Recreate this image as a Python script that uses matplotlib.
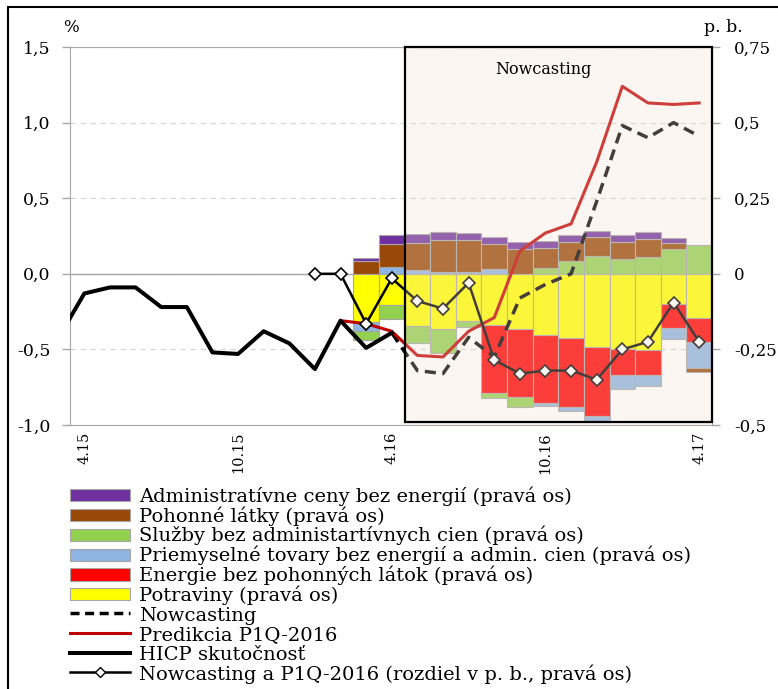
import numpy as np
import matplotlib
matplotlib.use("Agg")
from matplotlib import pyplot as plt
from matplotlib.legend_handler import HandlerPatch
from matplotlib.lines import Line2D
from matplotlib.patches import Patch, Rectangle

plt.rcParams["font.family"] = ["DejaVu Serif"]

months = ["3.15", "4.15", "5.15", "6.15", "7.15", "8.15", "9.15", "10.15", "11.15",
          "12.15", "1.16", "2.16", "3.16", "4.16", "5.16", "6.16", "7.16", "8.16",
          "9.16", "10.16", "11.16", "12.16", "1.17", "2.17", "3.17", "4.17"]
tick_months = ["4.15", "10.15", "4.16", "10.16", "4.17"]

# HICP, % (left axis)
hicp = [-0.42, -0.13, -0.09, -0.09, -0.22, -0.22, -0.52, -0.53, -0.38, -0.46,
        -0.63, -0.31, -0.49, -0.39]
prediction = [-0.31, -0.33, -0.38, -0.54, -0.55, -0.38, -0.29, 0.15, 0.27, 0.33,
              0.74, 1.24, 1.13, 1.12, 1.13]
nowcast = [-0.39, -0.64, -0.66, -0.42, -0.55, -0.16, -0.07, 0.0, 0.48, 0.98, 0.90,
           1.00, 0.91]

# nowcast minus prediction, p. b. (right axis)
difference = [0.0, 0.0, -0.165, -0.015, -0.09, -0.115, -0.03, -0.285, -0.33, -0.32,
              -0.32, -0.35, -0.25, -0.225, -0.095, -0.225]

# contributions, p. b. (right axis), 3.16 - 4.17
food = [-0.16, -0.103, -0.171, -0.182, -0.155, -0.169, -0.183, -0.204, -0.213,
        -0.243, -0.249, -0.252, -0.099, -0.145]
energy = [0.0, 0.0, 0.0, 0.0, 0.0, -0.224, -0.226, -0.224, -0.229, -0.227, -0.087,
          -0.083, -0.081, -0.081]
goods = [-0.029, 0.023, 0.011, 0.006, 0.006, 0.015, 0.0, -0.008, -0.013, -0.02,
         -0.045, -0.035, -0.036, -0.084]
services = [-0.03, -0.047, -0.058, -0.08, -0.02, -0.019, -0.03, 0.019, 0.041, 0.06,
            0.049, 0.057, 0.083, 0.094]
fuels = [0.043, 0.077, 0.092, 0.105, 0.105, 0.084, 0.082, 0.066, 0.064, 0.063,
         0.056, 0.059, 0.019, -0.015]
admin = [0.008, 0.027, 0.03, 0.028, 0.024, 0.024, 0.022, 0.025, 0.024, 0.019,
         0.024, 0.022, 0.017, 0.0]

bar_series = [
    (food, "#FFFF00", "Potraviny (pravá os)"),
    (energy, "#FF0000", "Energie bez pohonných látok (pravá os)"),
    (goods, "#8DB4E2", "Priemyselné tovary bez energií a admin. cien (pravá os)"),
    (services, "#92D050", "Služby bez administartívnych cien (pravá os)"),
    (fuels, "#984807", "Pohonné látky (pravá os)"),
    (admin, "#7030A0", "Administratívne ceny bez energií (pravá os)"),
]

GRAY = "#a6a6a6"


def xs(start, values):
    i = months.index(start)
    return np.arange(i, i + len(values))


def stacked_bars(ax, x, series):
    pos = np.zeros(len(x))
    neg = np.zeros(len(x))
    for values, color, _ in series:
        v = np.asarray(values, dtype=float)
        bottom = np.where(v >= 0, pos, neg)
        m = v != 0
        ax.bar(x[m], v[m], bottom=bottom[m], width=1.0, color=color,
               edgecolor=GRAY, linewidth=0.8, zorder=2)
        pos += np.clip(v, 0, None)
        neg += np.clip(v, None, 0)


def legend_box(legend, orig_handle, xdescent, ydescent, width, height, fontsize):
    # thinner swatch than the legend row
    h = 0.62 * fontsize
    return Rectangle((-xdescent, -ydescent + (height - h) / 2), width, h)


fig = plt.figure(figsize=(7.78, 6.89), dpi=100)
ax = fig.add_axes([70 / 778, 1 - 425 / 689, 642 / 778, 378 / 689])
ax2 = ax.twinx()
ax.set_zorder(ax2.get_zorder() + 1)
ax.patch.set_visible(False)

# right axis: contributions
stacked_bars(ax2, xs("3.16", food), bar_series)
ax2.axhline(0, color=GRAY, lw=1, zorder=1)
ax2.grid(axis="y", linestyle=(0, (5, 4)), color="#d4d4d4", lw=0.8)
ax2.set_axisbelow(True)

# left axis: lines
ax.plot(xs("4.16", nowcast), nowcast, color="black", lw=2.5, dashes=(3.2, 1.9),
        zorder=3)
ax.plot(xs("2.16", prediction), prediction, color="#C00000", lw=2.2, zorder=3)
ax.plot(xs("3.15", hicp), hicp, color="black", lw=2.9, zorder=3)
ax.plot(xs("1.16", difference), difference, transform=ax2.transData,
        color="black", lw=1.8, marker="D", ms=6, mfc="white", mec="black",
        mew=1.2, zorder=4)

# nowcasting period
now_start = months.index("4.16") + 0.5
now_end = months.index("4.17") + 0.5
ax.axvspan(now_start, now_end, facecolor="#F5E1D2", alpha=0.28, lw=0, zorder=5)
ax.axvspan(now_start, now_end, ymin=0.008, ymax=1, fill=False, edgecolor="black",
           lw=1.6, zorder=6, clip_on=False)
ax.text(0.737, 0.94, "Nowcasting", transform=ax.transAxes, ha="center",
        va="center", fontsize=11.5, zorder=7)

ax.set_xlim(months.index("4.15") - 0.56, now_end)
ax.set_ylim(-1.0, 1.5)
ax2.set_ylim(-0.5, 0.75)

ax.set_xticks([months.index(m) for m in tick_months])
ax.set_xticklabels(tick_months, rotation=90)
ax.tick_params(axis="x", length=0, pad=5, labelsize=10.5)

left_ticks = np.arange(-1.0, 1.51, 0.5)
ax.set_yticks(left_ticks)
ax.set_yticklabels([f"{t:.1f}".replace(".", ",") for t in left_ticks])
ax.tick_params(axis="y", color=GRAY, length=6, width=1, labelsize=12.5, pad=8)

right_ticks = [-0.5, -0.25, 0, 0.25, 0.5, 0.75]
ax2.set_yticks(right_ticks)
ax2.set_yticklabels(["-0,5", "-0,25", "0", "0,25", "0,5", "0,75"])
ax2.tick_params(axis="y", color=GRAY, length=6, width=1, labelsize=12, pad=10)

for sp in ax.spines.values():
    sp.set_color(GRAY)
for sp in ax2.spines.values():
    sp.set_visible(False)

fig.text(71 / 778, 1 - 27 / 689, "%", ha="center", va="center", fontsize=12)
fig.text(723 / 778, 1 - 27 / 689, "p. b.", ha="center", va="center", fontsize=12.5)

handles = [Patch(facecolor=c, edgecolor=GRAY, lw=0.8) for _, c, _ in bar_series[::-1]]
labels = [l for _, _, l in bar_series[::-1]]
handles += [
    Line2D([], [], color="black", lw=2.5, dashes=(2.6, 1.6)),
    Line2D([], [], color="#C00000", lw=2.2),
    Line2D([], [], color="black", lw=2.9),
    Line2D([], [], color="black", lw=1.8, marker="D", ms=5.5, mfc="white",
           mec="black", mew=1.0),
]
labels += ["Nowcasting", "Predikcia P1Q-2016", "HICP skutočnosť",
           "Nowcasting a P1Q-2016 (rozdiel v p. b., pravá os)"]
fig.legend(handles, labels, loc="upper left", bbox_to_anchor=(70 / 778, 1 - 486 / 689),
           frameon=False, fontsize=14, handlelength=3.1, handleheight=1.08,
           handletextpad=0.45, labelspacing=0.0, borderpad=0, borderaxespad=0,
           handler_map={Patch: HandlerPatch(patch_func=legend_box)})

fig.add_artist(Rectangle((8 / 778, -0.1), 1.2, 1.1 - 7 / 689, transform=fig.transFigure,
                         fill=False, edgecolor="black", lw=1.5))

fig.savefig("out.png", dpi=100)
